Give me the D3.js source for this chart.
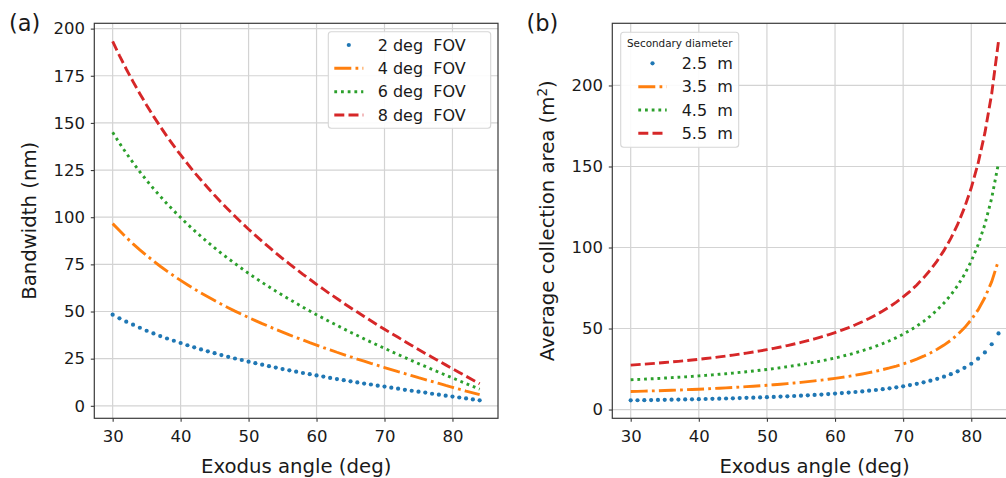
<!DOCTYPE html>
<html><head><meta charset="utf-8">
<script src="https://cdn.jsdelivr.net/npm/d3@7"></script>
<style>
body{margin:0;background:#fff}
text{font-family:"DejaVu Sans",sans-serif;fill:#1a1a1a}
</style>
</head><body>
<svg id="c" width="1006" height="478"></svg>
<script>
const angles = [30,31,32,33,34,35,36,37,38,39,40,41,42,43,44,45,46,47,48,49,50,51,52,53,54,55,56,57,58,59,60,61,62,63,64,65,66,67,68,69,70,71,72,73,74,75,76,77,78,79,80,81,82,83,84];

// Panel (a): bandwidth (nm)
const bw2 = [48.3,46.4,44.6,43.0,41.4,39.8,38.4,37.0,35.7,34.5,33.3,32.1,31.0,29.9,28.9,27.9,26.9,26.0,25.1,24.3,23.4,22.6,21.8,21.0,20.3,19.5,18.8,18.1,17.4,16.8,16.1,15.5,14.8,14.2,13.6,13.0,12.4,11.8,11.3,10.7,10.2,9.6,9.1,8.5,8.0,7.5,7.0,6.4,5.9,5.4,4.9,4.4,3.9,3.4,2.9];
const bw4 = [96.6,92.9,89.3,85.9,82.7,79.7,76.8,74.0,71.4,68.9,66.5,64.2,62.0,59.8,57.8,55.8,53.9,52.0,50.2,48.5,46.8,45.2,43.6,42.1,40.5,39.1,37.6,36.2,34.9,33.5,32.2,30.9,29.7,28.4,27.2,26.0,24.8,23.7,22.5,21.4,20.3,19.2,18.1,17.1,16.0,14.9,13.9,12.9,11.9,10.8,9.8,8.8,7.8,6.9,5.9];
const bw6 = [145.0,139.3,134.0,128.9,124.1,119.5,115.2,111.1,107.1,103.4,99.8,96.3,93.0,89.8,86.7,83.7,80.8,78.1,75.4,72.8,70.2,67.8,65.4,63.1,60.8,58.6,56.5,54.4,52.3,50.3,48.3,46.4,44.5,42.7,40.8,39.0,37.3,35.5,33.8,32.1,30.5,28.8,27.2,25.6,24.0,22.4,20.9,19.3,17.8,16.3,14.8,13.3,11.8,10.3,8.8];
const bw8 = [193.3,185.7,178.6,171.9,165.5,159.4,153.6,148.1,142.8,137.8,133.0,128.4,123.9,119.7,115.6,111.6,107.8,104.1,100.5,97.0,93.6,90.4,87.2,84.1,81.1,78.1,75.3,72.5,69.7,67.1,64.4,61.9,59.3,56.9,54.4,52.0,49.7,47.4,45.1,42.8,40.6,38.4,36.3,34.1,32.0,29.9,27.8,25.8,23.7,21.7,19.7,17.7,15.7,13.7,11.7];

// Panel (b): average collection area (m^2)
const area25 = [5.67,5.73,5.79,5.85,5.92,5.99,6.07,6.15,6.23,6.32,6.41,6.50,6.61,6.71,6.82,6.94,7.07,7.20,7.34,7.48,7.64,7.80,7.97,8.16,8.35,8.56,8.78,9.01,9.26,9.53,9.82,10.13,10.46,10.81,11.20,11.62,12.07,12.56,13.10,13.70,14.35,15.08,15.89,16.79,17.81,18.97,20.29,21.82,23.61,25.73,28.27,31.38,35.27,40.28,46.96];
const area35 = [11.11,11.22,11.35,11.47,11.60,11.75,11.89,12.05,12.21,12.38,12.56,12.75,12.95,13.15,13.38,13.61,13.85,14.11,14.38,14.67,14.97,15.29,15.63,15.99,16.37,16.77,17.21,17.67,18.16,18.68,19.24,19.85,20.49,21.19,21.95,22.77,23.65,24.62,25.68,26.85,28.13,29.55,31.13,32.91,34.91,37.17,39.77,42.77,46.27,50.42,55.41,61.50,69.13,78.94,92.04];
const area45 = [18.36,18.55,18.75,18.96,19.18,19.42,19.66,19.91,20.18,20.47,20.76,21.07,21.40,21.75,22.11,22.49,22.90,23.32,23.77,24.24,24.74,25.27,25.83,26.43,27.06,27.73,28.44,29.20,30.01,30.88,31.81,32.81,33.88,35.03,36.28,37.63,39.10,40.70,42.46,44.38,46.50,48.85,51.47,54.40,57.70,61.45,65.74,70.70,76.49,83.35,91.59,101.67,114.28,130.50,152.15];
const area55 = [27.43,27.72,28.02,28.33,28.66,29.00,29.37,29.75,30.15,30.57,31.01,31.48,31.97,32.48,33.03,33.60,34.20,34.84,35.51,36.21,36.96,37.75,38.59,39.48,40.42,41.42,42.49,43.62,44.83,46.13,47.52,49.01,50.61,52.33,54.20,56.22,58.41,60.80,63.42,66.29,69.46,72.97,76.88,81.26,86.19,91.79,98.21,105.61,114.27,124.51,136.82,151.87,170.71,194.94,227.29];

const xTicks = [30,40,50,60,70,80];
const yTicksA = [0,25,50,75,100,125,150,175,200];
const yTicksB = [0,50,100,150,200];
const namesA = ["2 deg  FOV","4 deg  FOV","6 deg  FOV","8 deg  FOV"];
const namesB = ["2.5  m","3.5  m","4.5  m","5.5  m"];
const legendTitleB = "Secondary diameter";
const xLabel = "Exodus angle (deg)";
const yLabelA = "Bandwidth (nm)";
const yLabelB = "Average collection area (m";
const colors = ["#1f77b4","#ff7f0e","#2ca02c","#d62728"];

const LW = 2.9;
const styles = ["marker","dashdot","dotted","dashed"];
const dashes = {dashdot:"17,4.2,2.8,4.2", dotted:"2.8,3.9", dashed:"10,4.2"};

const svg = d3.select("#c");
const TOP = 23.3, BOT = 418.3;

function drawHandle(g, style, color, x0, x1, cy){
  if(style==="marker"){
    g.append("circle").attr("cx",(x0+x1)/2).attr("cy",cy).attr("r",2.1).attr("fill",color);
  } else {
    g.append("line").attr("x1",x0).attr("x2",x1).attr("y1",cy).attr("y2",cy)
      .attr("stroke",color).attr("stroke-width",LW).attr("stroke-dasharray",dashes[style]);
  }
}

function panel(cfg){
  const g = svg.append("g");
  const x = d3.scaleLinear().domain([30-2.7, 84+2.7]).range([cfg.x0, cfg.x1]);
  const all = cfg.series.flat();
  const [mn,mx] = d3.extent(all);
  const pad = (mx-mn)*0.05;
  const y = d3.scaleLinear().domain([mn-pad, mx+pad]).range([BOT, TOP]);

  const clipId = "clip"+cfg.id;
  svg.append("clipPath").attr("id",clipId).append("rect")
    .attr("x",cfg.x0).attr("y",TOP).attr("width",cfg.x1-cfg.x0).attr("height",BOT-TOP);

  // grid
  const grid = g.append("g").attr("stroke","#d3d3d3").attr("stroke-width",1.2);
  grid.selectAll(".gx").data(xTicks).join("line")
    .attr("x1",d=>x(d)).attr("x2",d=>x(d)).attr("y1",TOP).attr("y2",BOT);
  grid.selectAll(".gy").data(cfg.yTicks).join("line")
    .attr("x1",cfg.x0).attr("x2",cfg.x1).attr("y1",d=>y(d)).attr("y2",d=>y(d));

  // series
  const sg = g.append("g").attr("clip-path",`url(#${clipId})`);
  cfg.series.forEach((vals,i)=>{
    const pts = angles.map((a,j)=>[a,vals[j]]);
    if(styles[i]==="marker"){
      sg.append("g").selectAll("circle").data(pts).join("circle")
        .attr("cx",d=>x(d[0])).attr("cy",d=>y(d[1])).attr("r",2.1).attr("fill",colors[i]);
    } else {
      sg.append("path").datum(pts)
        .attr("d",d3.line().x(d=>x(d[0])).y(d=>y(d[1])))
        .attr("fill","none").attr("stroke",colors[i]).attr("stroke-width",LW)
        .attr("stroke-dasharray",dashes[styles[i]]);
    }
  });

  // frame
  g.append("rect").attr("x",cfg.x0).attr("y",TOP).attr("width",cfg.x1-cfg.x0).attr("height",BOT-TOP)
    .attr("fill","none").attr("stroke","#3a3a3a").attr("stroke-width",1.2);

  // axes
  const ax = g.append("g").attr("transform",`translate(0,${BOT})`)
    .call(d3.axisBottom(x).tickValues(xTicks).tickSize(3.5).tickPadding(8.2).tickFormat(d3.format("d")));
  const ay = g.append("g").attr("transform",`translate(${cfg.x0},0)`)
    .call(d3.axisLeft(y).tickValues(cfg.yTicks).tickSize(3.5).tickPadding(5.8).tickFormat(d3.format("d")));
  [ax,ay].forEach(a=>{
    a.select(".domain").remove();
    a.selectAll("line").attr("stroke","#3a3a3a").attr("stroke-width",1.1);
    a.selectAll("text").attr("font-family","DejaVu Sans").attr("font-size","16.5px").attr("fill","#1a1a1a");
  });

  // labels
  g.append("text").attr("x",(cfg.x0+cfg.x1)/2).attr("y",472.5).attr("text-anchor","middle")
    .attr("font-size","19.7px").text(xLabel);
  const yl = g.append("text").attr("transform",`translate(${cfg.ylx},${(TOP+BOT)/2}) rotate(-90)`)
    .attr("text-anchor","middle").attr("font-size","19.7px").text(cfg.ylabel);
  if(cfg.sup){
    yl.append("tspan").attr("font-size","13.5px").attr("dy","-7").text("2");
    yl.append("tspan").attr("dy","7").text(")");
  }
  g.append("text").attr("x",cfg.px).attr("y",30.5).attr("font-size","22.5px").text(cfg.plabel);

  // legend
  const L = cfg.legend;
  const lg = g.append("g");
  lg.append("rect").attr("x",L.x).attr("y",L.y).attr("width",L.w).attr("height",L.h)
    .attr("rx",3).attr("fill","#fff").attr("fill-opacity",0.9).attr("stroke","#d6d6d6").attr("stroke-width",1.1);
  if(L.title){
    lg.append("text").attr("x",L.x+L.w/2).attr("y",L.titleY).attr("text-anchor","middle")
      .attr("font-size","10.4px").text(L.title);
  }
  L.names.forEach((n,i)=>{
    const cy = L.rows[i];
    drawHandle(lg, styles[i], colors[i], L.hx0, L.hx1, cy);
    lg.append("text").attr("x",L.tx).attr("y",cy+5.6).attr("font-size","16px")
      .attr("xml:space","preserve").style("white-space","pre").text(n);
  });
}

panel({id:"a", x0:94.3, x1:498, series:[bw2,bw4,bw6,bw8], yTicks:yTicksA,
  ylabel:yLabelA, ylx:36, sup:false, plabel:"(a)", px:9,
  legend:{x:328.3,y:31.7,w:162.4,h:96.6,names:namesA,rows:[45,68.3,91.7,115],hx0:334.3,hx1:363.3,tx:377.7}});

panel({id:"b", x0:612.3, x1:1016.9, series:[area25,area35,area45,area55], yTicks:yTicksB,
  ylabel:yLabelB, ylx:554, sup:true, plabel:"(b)", px:526.5,
  legend:{x:620.7,y:32.3,w:118,h:115,title:legendTitleB,titleY:46.8,names:namesB,rows:[63.3,86.7,110,133.3],hx0:638.3,hx1:666.7,tx:681.7}});
</script>
</body></html>
